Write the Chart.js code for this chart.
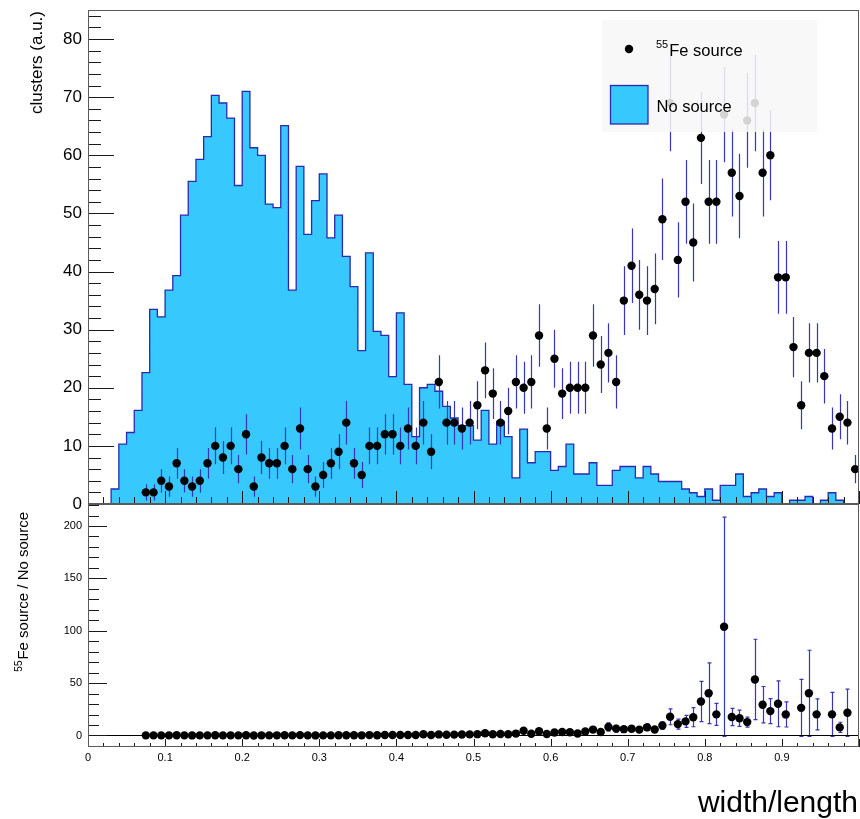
<!DOCTYPE html>
<html>
<head>
<meta charset="utf-8">
<title>width/length</title>
<script src="https://cdn.jsdelivr.net/npm/chart.js@4/dist/chart.umd.min.js"></script>
<style>
  html, body { margin: 0; padding: 0; background: #fff; }
  #wrap { position: relative; width: 860px; height: 819px; overflow: hidden; }
  canvas { position: absolute; left: 0; }
  #upper { top: 0; }
  #lower { top: 495px; }
</style>
</head>
<body>
<div id="wrap">
  <canvas id="upper" width="860" height="514"></canvas>
  <canvas id="lower" width="860" height="324"></canvas>
</div>
<script>
// ---- data -------------------------------------------------------------
// lower edges of the width/length bins
const binLowEdges = [
  0.00, 0.01, 0.02, 0.03, 0.04, 0.05, 0.06, 0.07, 0.08, 0.09,
  0.10, 0.11, 0.12, 0.13, 0.14, 0.15, 0.16, 0.17, 0.18, 0.19,
  0.20, 0.21, 0.22, 0.23, 0.24, 0.25, 0.26, 0.27, 0.28, 0.29,
  0.30, 0.31, 0.32, 0.33, 0.34, 0.35, 0.36, 0.37, 0.38, 0.39,
  0.40, 0.41, 0.42, 0.43, 0.44, 0.45, 0.46, 0.47, 0.48, 0.49,
  0.50, 0.51, 0.52, 0.53, 0.54, 0.55, 0.56, 0.57, 0.58, 0.59,
  0.60, 0.61, 0.62, 0.63, 0.64, 0.65, 0.66, 0.67, 0.68, 0.69,
  0.70, 0.71, 0.72, 0.73, 0.74, 0.75, 0.76, 0.77, 0.78, 0.79,
  0.80, 0.81, 0.82, 0.83, 0.84, 0.85, 0.86, 0.87, 0.88, 0.89,
  0.90, 0.91, 0.92, 0.93, 0.94, 0.95, 0.96, 0.97, 0.98, 0.99
];
const binWidth = 0.01;

// background run (weighted), clusters (a.u.)
const noSource = [
  0, 0, 0, 1.94, 2.58, 10.3, 12.3, 16.1, 22.6, 33.5,
  32.2, 36.8, 39.3, 49.7, 55.5, 59.3, 63.2, 70.3, 69.0, 66.4,
  54.8, 71.0, 61.3, 60.0, 51.6, 51.0, 65.1, 36.8, 58.1, 46.4,
  52.2, 56.8, 45.8, 49.7, 42.6, 37.4, 26.4, 43.2, 29.7, 29.0,
  21.9, 32.9, 20.6, 11.6, 20.0, 20.6, 19.4, 16.8, 14.8, 13.5,
  13.5, 11.0, 16.1, 10.3, 14.2, 11.6, 4.5, 12.9, 7.1, 9.0,
  9.0, 5.8, 6.45, 10.3, 5.16, 5.16, 7.1, 3.22, 3.22, 5.8,
  6.45, 6.45, 4.5, 6.45, 5.16, 3.87, 3.87, 3.87, 2.58, 1.94,
  1.29, 2.58, 0.645, 3.22, 3.22, 5.16, 1.29, 1.94, 2.58, 1.29,
  1.94, 0, 0.645, 0.645, 1.29, 0, 0.645, 1.94, 0.645, 0
];
// weight of one background cluster
const noSourceWeight = 0.645;

// 55Fe source run, clusters per bin
const feSource = [
  0, 0, 0, 0, 0, 0, 0, 2, 2, 4,
  3, 7, 4, 3, 4, 7, 10, 8, 10, 6,
  12, 3, 8, 7, 7, 10, 6, 13, 6, 3,
  5, 7, 9, 14, 7, 5, 10, 10, 12, 12,
  10, 13, 10, 14, 9, 21, 14, 14, 13, 14,
  17, 23, 19, 14, 16, 21, 20, 21, 29, 13,
  25, 19, 20, 20, 20, 29, 24, 26, 21, 35,
  41, 36, 35, 37, 49, 69, 42, 52, 45, 63,
  52, 52, 67, 57, 53, 66, 69, 57, 60, 39,
  39, 27, 17, 26, 26, 22, 13, 15, 14, 6
];

const xTickLabels = ['0', '0.1', '0.2', '0.3', '0.4', '0.5', '0.6', '0.7', '0.8', '0.9'];

// ---- style ------------------------------------------------------------
const FONT = '"Liberation Sans", Arial, Helvetica, sans-serif';
const FILL = '#37c8fe';
const OUTLINE = '#2a2aae';
const ERR = '#3636b6';
Chart.defaults.font.family = FONT;
Chart.defaults.color = '#000';

// ---- derived series ---------------------------------------------------
const lastIdx = binLowEdges.length - 1;
const firstFilled = noSource.findIndex(v => v > 0);
const histPoints = [{ x: binLowEdges[firstFilled], y: 0 }];
for (let i = firstFilled; i <= lastIdx; i++) histPoints.push({ x: binLowEdges[i], y: noSource[i] });
histPoints.push({ x: binLowEdges[lastIdx] + binWidth, y: 0 });

const fePoints = [];
const ratioPoints = [];
for (let i = 0; i <= lastIdx; i++) {
  const n = feSource[i];
  if (n <= 0) continue;
  const xc = binLowEdges[i] + binWidth / 2;
  fePoints.push({ x: xc, y: n, err: Math.sqrt(n) });
  const b = noSource[i];
  if (b > 0) {
    const r = n / b;
    ratioPoints.push({ x: xc, y: r, err: r * Math.sqrt(1 / n + noSourceWeight / b) });
  }
}

// ---- plugins ----------------------------------------------------------
const errorBars = {
  id: 'errorBars',
  beforeDatasetDraw(chart, args, opts) {
    if (args.index !== opts.dataset) return;
    const { ctx, chartArea: a } = chart;
    const xs = chart.scales.x, ys = chart.scales.y;
    ctx.save();
    ctx.beginPath();
    ctx.rect(a.left, a.top, a.right - a.left, a.bottom - a.top);
    ctx.clip();
    ctx.strokeStyle = ERR;
    ctx.lineWidth = 1.2;
    ctx.beginPath();
    for (const p of chart.data.datasets[opts.dataset].data) {
      const px = Math.round(xs.getPixelForValue(p.x)) + 0.5;
      const y1 = ys.getPixelForValue(p.y - p.err);
      const y2 = ys.getPixelForValue(p.y + p.err);
      ctx.moveTo(px, y1); ctx.lineTo(px, y2);
      if (opts.cap) {
        ctx.moveTo(px - opts.cap, y1); ctx.lineTo(px + opts.cap, y1);
        ctx.moveTo(px - opts.cap, y2); ctx.lineTo(px + opts.cap, y2);
      }
    }
    ctx.stroke();
    ctx.restore();
  }
};

const frameTicks = {
  id: 'frameTicks',
  afterDatasetsDraw(chart, args, o) {
    const { ctx, chartArea: a } = chart;
    const xs = chart.scales.x, ys = chart.scales.y;
    ctx.save();
    if (o.zeroLine) {
      const yz = Math.round(ys.getPixelForValue(0)) + 0.5;
      ctx.strokeStyle = '#000'; ctx.lineWidth = 1;
      ctx.beginPath(); ctx.moveTo(a.left, yz); ctx.lineTo(a.right, yz); ctx.stroke();
    }
    ctx.strokeStyle = '#1a1a1a';
    ctx.lineWidth = 1;
    ctx.beginPath();
    const isMajor = (v, step) => Math.abs(v / step - Math.round(v / step)) < 1e-6;
    for (let v = Math.ceil(xs.min / o.xMinor - 1e-9) * o.xMinor; v <= xs.max + 1e-9; v += o.xMinor) {
      const px = Math.round(xs.getPixelForValue(v)) + 0.5;
      const len = isMajor(v, o.xMajor) ? o.xMajorLen : o.xMinorLen;
      ctx.moveTo(px, a.bottom); ctx.lineTo(px, a.bottom - len);
    }
    for (let k = Math.ceil(ys.min / o.yMinor - 1e-9); k * o.yMinor <= ys.max + 1e-9; k++) {
      const v = k * o.yMinor;
      const py = Math.round(ys.getPixelForValue(v)) + 0.5;
      const len = isMajor(v, o.yMajor) ? o.yMajorLen : o.yMinorLen;
      ctx.moveTo(a.left, py); ctx.lineTo(a.left + len, py);
    }
    ctx.stroke();
    ctx.strokeStyle = '#5a5a5a';
    ctx.strokeRect(a.left + 0.5, a.top + 0.5, a.right - a.left - 1, a.bottom - a.top - 1);
    ctx.restore();
  }
};

// rotated axis title, optionally with a leading superscript
function drawYTitle(ctx, x, yTop, sup, main, size) {
  ctx.save();
  ctx.translate(x, yTop);
  ctx.rotate(-Math.PI / 2);
  ctx.fillStyle = '#000';
  ctx.textBaseline = 'alphabetic';
  ctx.font = size + 'px ' + FONT;
  const wMain = ctx.measureText(main).width;
  let wSup = 0;
  const supSize = Math.round(size * 0.68);
  if (sup) {
    ctx.font = supSize + 'px ' + FONT;
    wSup = ctx.measureText(sup).width + 1;
  }
  const start = -(wSup + wMain);
  const base = size * 0.36;
  if (sup) ctx.fillText(sup, start, base - size * 0.42);
  ctx.font = size + 'px ' + FONT;
  ctx.fillText(main, start + wSup, base);
  ctx.restore();
}

const upperDecor = {
  id: 'upperDecor',
  afterDatasetsDraw(chart) {
    const ctx = chart.ctx;
    ctx.save();
    // legend box
    ctx.fillStyle = 'rgba(247,247,247,0.86)';
    ctx.fillRect(602, 20, 215, 112);
    ctx.fillStyle = '#000';
    ctx.beginPath(); ctx.arc(629, 49, 4.2, 0, Math.PI * 2); ctx.fill();
    ctx.font = '11px ' + FONT;
    ctx.textBaseline = 'alphabetic';
    ctx.fillText('55', 656, 47.5);
    const w55 = ctx.measureText('55').width;
    ctx.font = '16.5px ' + FONT;
    ctx.fillText('Fe source', 656 + w55 + 1, 56);
    ctx.fillStyle = FILL;
    ctx.fillRect(610, 85, 38, 39);
    ctx.strokeStyle = OUTLINE; ctx.lineWidth = 1.3;
    ctx.strokeRect(610.5, 85.5, 37.5, 38.5);
    ctx.fillStyle = '#000';
    ctx.fillText('No source', 656.5, 111.5);
    ctx.restore();
    drawYTitle(ctx, 35.5, 11, '', 'clusters (a.u.)', 17);
  }
};

const lowerDecor = {
  id: 'lowerDecor',
  afterDraw(chart) {
    const ctx = chart.ctx;
    drawYTitle(ctx, 22.5, 17, '55', 'Fe source / No source', 15);
    ctx.save();
    ctx.fillStyle = '#000';
    ctx.font = '30px ' + FONT;
    ctx.textAlign = 'right';
    ctx.textBaseline = 'alphabetic';
    ctx.fillText('width/length', 858, 317);
    ctx.restore();
  }
};

// keep the plot frame where the layout padding puts it
const fixedWidth = s => { s.width = 88; s.paddingTop = 0; s.paddingBottom = 0; };

// ---- upper pad: distributions -----------------------------------------
new Chart(document.getElementById('upper'), {
  type: 'line',
  data: {
    datasets: [
      {
        label: '55Fe source',
        data: fePoints,
        showLine: false,
        pointRadius: 4.2,
        pointBorderWidth: 0,
        pointBackgroundColor: '#000',
        pointBorderColor: '#000'
      },
      {
        label: 'No source',
        data: histPoints,
        stepped: 'after',
        borderColor: OUTLINE,
        borderWidth: 1.3,
        backgroundColor: FILL,
        fill: 'origin',
        pointRadius: 0,
        tension: 0
      }
    ]
  },
  options: {
    responsive: false,
    animation: false,
    events: [],
    devicePixelRatio: 1,
    layout: { autoPadding: false, padding: { left: 0, right: 1, top: 10, bottom: 10 } },
    plugins: {
      legend: { display: false },
      tooltip: { enabled: false },
      errorBars: { dataset: 0, cap: 0 },
      frameTicks: { xMajor: 0.1, xMinor: 0.02, xMajorLen: 13, xMinorLen: 7,
                    yMajor: 10, yMinor: 2, yMajorLen: 26, yMinorLen: 13 }
    },
    scales: {
      x: {
        type: 'linear', min: 0, max: 1,
        grid: { display: false, drawTicks: false },
        border: { display: false },
        ticks: { display: false },
        afterFit: s => { s.height = 0; s.paddingLeft = 0; s.paddingRight = 0; }
      },
      y: {
        type: 'linear', min: 0, max: 85,
        grid: { display: false, drawTicks: false },
        border: { display: false },
        ticks: { stepSize: 10, includeBounds: false, padding: 6, color: '#000', font: { size: 17 } },
        afterFit: fixedWidth
      }
    }
  },
  plugins: [errorBars, frameTicks, upperDecor]
});

// ---- lower pad: ratio -------------------------------------------------
new Chart(document.getElementById('lower'), {
  type: 'line',
  data: {
    datasets: [
      {
        label: 'ratio',
        data: ratioPoints,
        showLine: false,
        pointRadius: 4.2,
        pointBorderWidth: 0,
        pointBackgroundColor: '#000',
        pointBorderColor: '#000'
      }
    ]
  },
  options: {
    responsive: false,
    animation: false,
    events: [],
    devicePixelRatio: 1,
    layout: { autoPadding: false, padding: { left: 0, right: 1, top: 9, bottom: 0 } },
    plugins: {
      legend: { display: false },
      tooltip: { enabled: false },
      errorBars: { dataset: 0, cap: 2 },
      frameTicks: { xMajor: 0.1, xMinor: 0.02, xMajorLen: 8, xMinorLen: 4,
                    yMajor: 50, yMinor: 10, yMajorLen: 19, yMinorLen: 11, zeroLine: true }
    },
    scales: {
      x: {
        type: 'linear', min: 0, max: 1,
        grid: { display: false, drawTicks: false },
        border: { display: false },
        ticks: {
          stepSize: 0.1, includeBounds: false, padding: 4, maxRotation: 0, autoSkip: false,
          color: '#000', font: { size: 11 },
          callback: (v, i) => xTickLabels[i] ?? ''
        },
        afterFit: s => { s.height = 72; s.paddingLeft = 0; s.paddingRight = 0; }
      },
      y: {
        type: 'linear', min: -11, max: 221,
        grid: { display: false, drawTicks: false },
        border: { display: false },
        ticks: { stepSize: 50, includeBounds: false, padding: 6, color: '#000', font: { size: 11 } },
        afterFit: fixedWidth
      }
    }
  },
  plugins: [errorBars, frameTicks, lowerDecor]
});
</script>
</body>
</html>
